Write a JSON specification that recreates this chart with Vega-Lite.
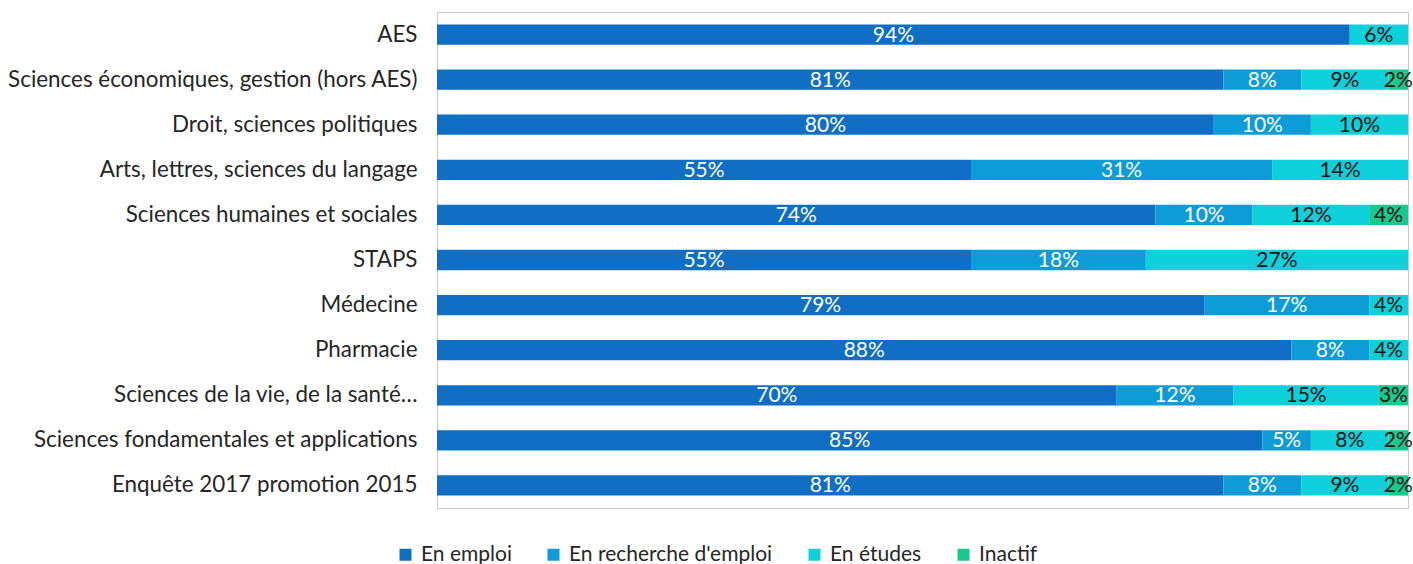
{
  "$schema": "https://vega.github.io/schema/vega-lite/v6.json",
  "width": 971,
  "height": 496,
  "autosize": {"type": "none"},
  "padding": {"left": 437, "top": 12, "right": 5, "bottom": 56},
  "background": "white",
  "config": {
    "font": "Lato",
    "view": {"stroke": "#c8c8c8", "strokeWidth": 1},
    "axis": {"labelFont": "Lato"},
    "legend": {"labelFont": "Lato"}
  },
  "data": {
    "values": [
      {"filiere": "AES", "statut": "En emploi", "k": 0, "pct": 0.94},
      {"filiere": "AES", "statut": "En études", "k": 2, "pct": 0.06},
      {"filiere": "Sciences économiques, gestion (hors AES)", "statut": "En emploi", "k": 0, "pct": 0.81},
      {"filiere": "Sciences économiques, gestion (hors AES)", "statut": "En recherche d'emploi", "k": 1, "pct": 0.08},
      {"filiere": "Sciences économiques, gestion (hors AES)", "statut": "En études", "k": 2, "pct": 0.09},
      {"filiere": "Sciences économiques, gestion (hors AES)", "statut": "Inactif", "k": 3, "pct": 0.02},
      {"filiere": "Droit, sciences politiques", "statut": "En emploi", "k": 0, "pct": 0.80},
      {"filiere": "Droit, sciences politiques", "statut": "En recherche d'emploi", "k": 1, "pct": 0.10},
      {"filiere": "Droit, sciences politiques", "statut": "En études", "k": 2, "pct": 0.10},
      {"filiere": "Arts, lettres, sciences du langage", "statut": "En emploi", "k": 0, "pct": 0.55},
      {"filiere": "Arts, lettres, sciences du langage", "statut": "En recherche d'emploi", "k": 1, "pct": 0.31},
      {"filiere": "Arts, lettres, sciences du langage", "statut": "En études", "k": 2, "pct": 0.14},
      {"filiere": "Sciences humaines et sociales", "statut": "En emploi", "k": 0, "pct": 0.74},
      {"filiere": "Sciences humaines et sociales", "statut": "En recherche d'emploi", "k": 1, "pct": 0.10},
      {"filiere": "Sciences humaines et sociales", "statut": "En études", "k": 2, "pct": 0.12},
      {"filiere": "Sciences humaines et sociales", "statut": "Inactif", "k": 3, "pct": 0.04},
      {"filiere": "STAPS", "statut": "En emploi", "k": 0, "pct": 0.55},
      {"filiere": "STAPS", "statut": "En recherche d'emploi", "k": 1, "pct": 0.18},
      {"filiere": "STAPS", "statut": "En études", "k": 2, "pct": 0.27},
      {"filiere": "Médecine", "statut": "En emploi", "k": 0, "pct": 0.79},
      {"filiere": "Médecine", "statut": "En recherche d'emploi", "k": 1, "pct": 0.17},
      {"filiere": "Médecine", "statut": "En études", "k": 2, "pct": 0.04},
      {"filiere": "Pharmacie", "statut": "En emploi", "k": 0, "pct": 0.88},
      {"filiere": "Pharmacie", "statut": "En recherche d'emploi", "k": 1, "pct": 0.08},
      {"filiere": "Pharmacie", "statut": "En études", "k": 2, "pct": 0.04},
      {"filiere": "Sciences de la vie, de la santé…", "statut": "En emploi", "k": 0, "pct": 0.70},
      {"filiere": "Sciences de la vie, de la santé…", "statut": "En recherche d'emploi", "k": 1, "pct": 0.12},
      {"filiere": "Sciences de la vie, de la santé…", "statut": "En études", "k": 2, "pct": 0.15},
      {"filiere": "Sciences de la vie, de la santé…", "statut": "Inactif", "k": 3, "pct": 0.03},
      {"filiere": "Sciences fondamentales et applications", "statut": "En emploi", "k": 0, "pct": 0.85},
      {"filiere": "Sciences fondamentales et applications", "statut": "En recherche d'emploi", "k": 1, "pct": 0.05},
      {"filiere": "Sciences fondamentales et applications", "statut": "En études", "k": 2, "pct": 0.08},
      {"filiere": "Sciences fondamentales et applications", "statut": "Inactif", "k": 3, "pct": 0.02},
      {"filiere": "Enquête 2017 promotion 2015", "statut": "En emploi", "k": 0, "pct": 0.81},
      {"filiere": "Enquête 2017 promotion 2015", "statut": "En recherche d'emploi", "k": 1, "pct": 0.08},
      {"filiere": "Enquête 2017 promotion 2015", "statut": "En études", "k": 2, "pct": 0.09},
      {"filiere": "Enquête 2017 promotion 2015", "statut": "Inactif", "k": 3, "pct": 0.02}
    ]
  },
  "transform": [
    {"stack": "pct", "groupby": ["filiere"], "sort": [{"field": "k", "order": "ascending"}], "as": ["x0", "x1"]},
    {"calculate": "(datum.x0 + datum.x1) / 2", "as": "mid"}
  ],
  "encoding": {
    "y": {
      "field": "filiere",
      "type": "nominal",
      "sort": null,
      "scale": {"paddingInner": 0.55, "paddingOuter": 0.275},
      "axis": {
        "title": null,
        "ticks": false,
        "domain": false,
        "labelFontSize": 22.4,
        "labelColor": "#262626",
        "labelPadding": 20,
        "labelLimit": 600
      }
    }
  },
  "layer": [
    {
      "mark": {"type": "bar"},
      "encoding": {
        "x": {"field": "x0", "type": "quantitative", "scale": {"domain": [0, 1], "nice": false}, "axis": null},
        "x2": {"field": "x1"},
        "color": {
          "field": "statut",
          "type": "nominal",
          "scale": {
            "domain": ["En emploi", "En recherche d'emploi", "En études", "Inactif"],
            "range": ["#106EC4", "#0E9CD8", "#0ED0DA", "#17C98F"]
          },
          "legend": {
            "title": null,
            "orient": "none",
            "direction": "horizontal",
            "legendX": -42,
            "legendY": 532,
            "symbolType": "square",
            "symbolSize": 144,
            "symbolStrokeWidth": 0,
            "labelFontSize": 21,
            "labelColor": "#262626",
            "labelOffset": 5,
            "labelLimit": 400,
            "columnPadding": 31
          }
        }
      }
    },
    {
      "mark": {"type": "text", "fontSize": 21, "baseline": "middle", "align": "center", "dy": 1},
      "encoding": {
        "x": {"field": "mid", "type": "quantitative"},
        "text": {"field": "pct", "type": "quantitative", "format": ".0%"},
        "color": {"condition": {"test": "datum.k < 2", "value": "white"}, "value": "#111111"}
      }
    }
  ]
}
